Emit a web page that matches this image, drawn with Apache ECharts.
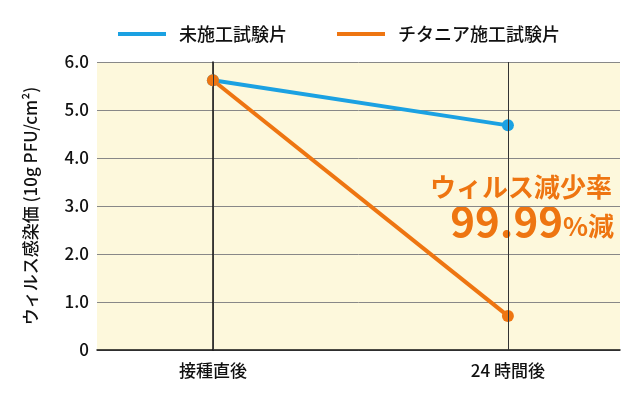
<!DOCTYPE html>
<html><head><meta charset="utf-8">
<script src="https://cdn.jsdelivr.net/npm/echarts@6/dist/echarts.min.js"></script>
<style>html,body{margin:0;padding:0;background:#fff}#chart{width:640px;height:400px}</style>
</head><body><div id="chart"></div>
<script>
var categories = ['接種直後', '24 時間後'];
var untreated = [5.62, 4.68];
var titania = [5.62, 0.71];
var yTicks = ['0', '1.0', '2.0', '3.0', '4.0', '5.0', '6.0'];

var font = '"Noto Sans CJK JP", "Noto Sans", sans-serif';
var chart = echarts.init(document.getElementById('chart'));

function pts(arr) {
    return arr.map(function (v, i) { return [i, v]; });
}

chart.setOption({
    textStyle: { fontFamily: font },
    legend: {
        top: 20, left: 113, itemWidth: 48, itemHeight: 4, itemGap: 50,
        icon: 'rect',
        textStyle: { fontSize: 18, fontWeight: 500, color: '#111', fontFamily: font, padding: [0, 0, 0, 8] },
        data: ['未施工試験片', 'チタニア施工試験片']
    },
    grid: { left: 97, right: 20, top: 62, bottom: 50, backgroundColor: '#fdf8dc', show: true, borderWidth: 0 },
    xAxis: {
        type: 'value', min: -0.393, max: 1.38,
        axisLine: { lineStyle: { color: '#111', width: 1.5 } },
        axisTick: { show: false },
        splitLine: { show: false },
        axisLabel: {
            customValues: [0, 1], fontSize: 17, fontWeight: 500, color: '#111', margin: 12,
            formatter: function (v) { return categories[Math.round(v)]; }
        }
    },
    yAxis: {
        type: 'value', min: 0, max: 6, interval: 1,
        name: 'ウィルス感染価 (10g PFU/cm²)', nameLocation: 'middle', nameGap: 58,
        nameTextStyle: { fontSize: 17, fontWeight: 500, color: '#111' },
        axisLine: { show: true, lineStyle: { color: '#111', width: 1.5 } },
        axisTick: { show: false },
        splitLine: { lineStyle: { color: '#888', width: 1 } },
        axisLabel: { fontSize: 17, fontWeight: 500, color: '#111', formatter: function (v) { return yTicks[v]; } }
    },
    series: [{
        name: '未施工試験片', type: 'line', data: pts(untreated),
        color: '#1ba1e2', lineStyle: { width: 4 }, symbol: 'circle', symbolSize: 12,
        markLine: {
            silent: true, symbol: 'none', label: { show: false },
            lineStyle: { color: '#333', width: 1, type: 'solid' },
            data: [{ xAxis: 0 }, { xAxis: 1 }]
        }
    }, {
        name: 'チタニア施工試験片', type: 'line', data: pts(titania),
        color: '#ee7511', lineStyle: { width: 4 }, symbol: 'circle', symbolSize: 12
    }],
    graphic: [{
        type: 'text', right: 28, top: 174,
        style: { text: 'ウィルス減少率', fontSize: 26, fontWeight: 'bold', fill: '#ee7511', fontFamily: font }
    }, {
        type: 'text', right: 26, top: 200,
        style: {
            text: '{a|99.99}{b|%減}',
            rich: {
                a: { fontSize: 42, fontWeight: 'bold', fill: '#ee7511', fontFamily: font },
                b: { fontSize: 26, fontWeight: 'bold', fill: '#ee7511', fontFamily: font, padding: [10, 0, 0, 0] }
            }
        }
    }]
});
</script></body></html>
